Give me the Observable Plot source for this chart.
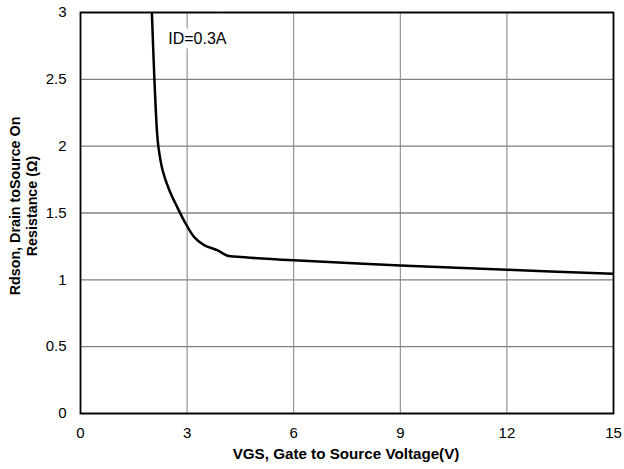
<!DOCTYPE html>
<html><head><meta charset="utf-8">
<script src="https://cdn.jsdelivr.net/npm/d3@7"></script>
<script src="https://cdn.jsdelivr.net/npm/@observablehq/plot@0.6"></script>
<style>body{margin:0;background:#fff;font-family:"Liberation Sans",Arial,sans-serif}</style>
</head><body><div id="chart"></div>
<script>
const vgs = [2.01, 2.08, 2.15, 2.19, 2.31, 2.50, 2.73, 2.92, 3.2, 3.48, 3.86, 4.14, 4.42, 6.0, 9.0, 12.0, 15.0];
const rdson = [2.99, 2.5, 2.12, 2.0, 1.82, 1.67, 1.54, 1.44, 1.32, 1.26, 1.22, 1.18, 1.172, 1.146, 1.107, 1.075, 1.045];
const xTicks = [0, 3, 6, 9, 12, 15];
const yTicks = [0, 0.5, 1, 1.5, 2, 2.5, 3];
const annotation = [{x: 2.47, y: 2.8, label: "ID=0.3A"}];
const data = vgs.map((v, i) => ({vgs: v, rdson: rdson[i]}));

const W = 624, H = 469, ml = 80, mr = 11, mt = 12, mb = 56;
const fmt = d => String(d);
const chart = Plot.plot({
  width: W, height: H,
  marginLeft: ml, marginRight: mr, marginTop: mt, marginBottom: mb,
  style: {fontFamily: "Liberation Sans, Arial, sans-serif", fontSize: "15px", color: "#000"},
  x: {domain: [0, 15], label: null},
  y: {domain: [0, 3], label: null},
  marks: [
    Plot.gridX(xTicks, {stroke: "#808080", strokeOpacity: 1, strokeWidth: 1}),
    Plot.gridY(yTicks, {stroke: "#808080", strokeOpacity: 1, strokeWidth: 1.3}),
    Plot.text(annotation, {x: "x", y: "y", text: "label", textAnchor: "start", fontSize: 16, fontWeight: "normal", fill: "white", stroke: "white", strokeWidth: 14, strokeLinejoin: "miter"}),
    Plot.text(annotation, {x: "x", y: "y", text: "label", textAnchor: "start", fontSize: 16, fontWeight: "normal", fill: "#000"}),
    Plot.line(data, {x: "vgs", y: "rdson", stroke: "#000", strokeWidth: 2.5, curve: "catmull-rom", clip: true}),
    Plot.frame({stroke: "#000", strokeWidth: 1.8}),
    Plot.axisX({ticks: xTicks, tickFormat: fmt, tickSize: 0, tickPadding: 14, fontSize: 15, label: null}),
    Plot.axisY({ticks: yTicks, tickFormat: fmt, tickSize: 0, tickPadding: 14, fontSize: 15, label: null})
  ]
});
document.getElementById("chart").appendChild(chart);
const svg = d3.select(chart);
const cy = 206;
const yl = svg.append("text").attr("transform", `translate(26,${cy}) rotate(-90)`)
  .attr("text-anchor", "middle").attr("font-weight", "bold").attr("font-size", 14.3)
  .attr("font-family", "Liberation Sans, Arial, sans-serif").attr("fill", "#000");
yl.append("tspan").attr("x", 0).attr("dy", "-0.4em").text("Rdson, Drain toSource On");
yl.append("tspan").attr("x", 0).attr("dy", "1.15em").text("Resistance (Ω)");
svg.append("text").attr("x", 346).attr("y", 459)
  .attr("text-anchor", "middle").attr("font-weight", "bold").attr("font-size", 15.2)
  .attr("font-family", "Liberation Sans, Arial, sans-serif").attr("fill", "#000")
  .text("VGS, Gate to Source Voltage(V)");
</script></body></html>
